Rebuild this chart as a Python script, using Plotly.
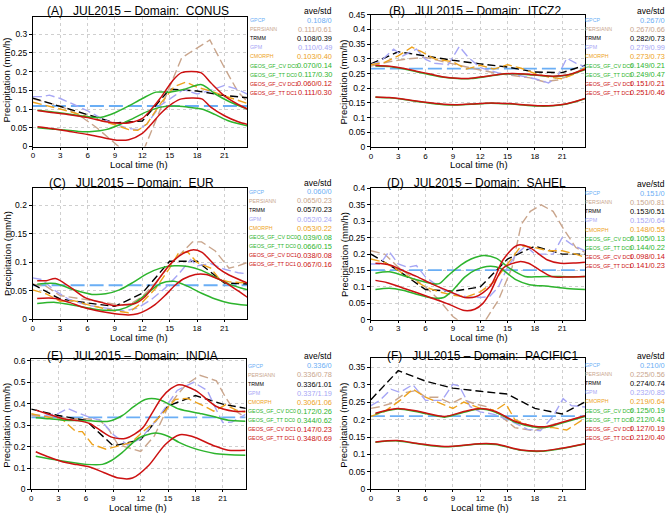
import plotly.graph_objects as go

W, H = 668, 517

# ---------------- common ----------------
HOURS3 = [0, 3, 6, 9, 12, 15, 18, 21, 24]
XTICKS = [0, 3, 6, 9, 12, 15, 18, 21]
XMAX = 23.5
SERIES = ["GPCP", "PERSIANN", "TRMM", "GPM", "CMORPH",
          "GEOS_GF_CV DC0", "GEOS_GF_TT DC0", "GEOS_GF_CV DC1", "GEOS_GF_TT DC1"]
COLORS = ["#6aaef5", "#c9a58c", "#000000", "#a6a6f5", "#eda21c",
          "#2db42d", "#2db42d", "#cc1111", "#cc1111"]

# ---------------- (A) CONUS ----------------
A_GPCP = 0.108
A_TRMM = [0.129, 0.107, 0.085, 0.063, 0.068, 0.153, 0.148, 0.136, 0.129]
A_PERSIANN_X = [0, 3, 5, 7, 9.4, 10.8, 12.3, 13.5, 15, 16.3, 17.5, 19.4, 21, 22.5, 23.5]
A_PERSIANN = [0.127, 0.108, 0.085, 0.05, 0.0, -0.03, 0.0, 0.07, 0.155, 0.236, 0.255, 0.284, 0.21, 0.145, 0.12]
A_GPM_X = [0, 1, 1.8, 3, 4.5, 6, 7.5, 9, 10.5, 11.5, 12.5, 14, 15.5, 16.5, 18, 19.5, 21, 22.5, 23.5]
A_GPM = [0.133, 0.133, 0.137, 0.128, 0.112, 0.095, 0.075, 0.06, 0.048, 0.045, 0.06, 0.11, 0.135, 0.152, 0.14, 0.15, 0.163, 0.152, 0.14]
A_CMORPH_X = [0, 1.5, 3, 4.5, 6, 7.5, 9, 10.5, 11.5, 12.5, 14, 15.5, 16.8, 18, 19.5, 21, 22.5, 23.5]
A_CMORPH = [0.118, 0.11, 0.1, 0.09, 0.08, 0.07, 0.058, 0.045, 0.043, 0.06, 0.115, 0.16, 0.172, 0.158, 0.148, 0.135, 0.122, 0.115]
A_CV0_X = [0.5, 2, 3.5, 5, 6.5, 8, 9.5, 11, 12.5, 14, 15.5, 17, 18.5, 20, 21.5, 23.5]
A_CV0 = [0.05, 0.047, 0.044, 0.04, 0.04, 0.045, 0.058, 0.075, 0.093, 0.105, 0.108, 0.105, 0.1, 0.085, 0.068, 0.055]
A_TT0_X = [0.5, 2, 3.5, 5, 6.5, 7.5, 9, 10.5, 12, 13.5, 15, 16.5, 18.5, 20, 21.5, 23.5]
A_TT0 = [0.097, 0.093, 0.088, 0.083, 0.078, 0.078, 0.09, 0.108, 0.128, 0.145, 0.145, 0.152, 0.165, 0.14, 0.12, 0.1]
A_CV1_X = [0.5, 2, 4, 6, 8, 9.2, 10.5, 12, 13, 14, 15.3, 16.3, 18.5, 19.5, 21, 22.5, 23.5]
A_CV1 = [0.053, 0.048, 0.04, 0.032, 0.022, 0.017, 0.018, 0.035, 0.06, 0.088, 0.115, 0.127, 0.127, 0.105, 0.082, 0.066, 0.059]
A_TT1_X = [0.5, 2, 4, 6, 8, 9.5, 10.5, 12, 13, 14, 15.3, 16.3, 18.4, 19.5, 21, 22.5, 23.5]
A_TT1 = [0.096, 0.091, 0.085, 0.077, 0.066, 0.062, 0.063, 0.075, 0.1, 0.13, 0.175, 0.197, 0.197, 0.17, 0.135, 0.112, 0.1]
A_STATS = ["0.108/0", "0.111/0.61", "0.108/0.39", "0.110/0.49", "0.103/0.40",
           "0.070/0.14", "0.117/0.30", "0.060/0.12", "0.111/0.30"]

# ---------------- (B) ITCZ2 ----------------
B_GPCP = 0.267
B_TRMM = [0.283, 0.324, 0.31, 0.295, 0.283, 0.272, 0.255, 0.253, 0.283]
B_PERSIANN_X = [0, 2, 4, 6, 8, 10, 12, 14, 16, 17.5, 19, 20.5, 22, 23.5]
B_PERSIANN = [0.275, 0.29, 0.30, 0.305, 0.29, 0.275, 0.262, 0.25, 0.242, 0.235, 0.222, 0.228, 0.245, 0.27]
B_GPM_X = [0, 1, 2.5, 3.5, 5, 6, 7, 8.5, 9.7, 10.7, 12, 14, 16, 18, 19.5, 20.5, 21.5, 22.5, 23.5]
B_GPM = [0.28, 0.29, 0.333, 0.31, 0.333, 0.298, 0.285, 0.28, 0.342, 0.305, 0.27, 0.252, 0.245, 0.232, 0.218, 0.24, 0.302, 0.285, 0.273]
B_CMORPH_X = [0, 1.5, 3, 4.5, 5.5, 7, 9, 10.5, 12, 13.5, 15, 16.5, 18, 19.5, 21, 22.5, 23.5]
B_CMORPH = [0.28, 0.288, 0.31, 0.34, 0.325, 0.3, 0.29, 0.265, 0.278, 0.265, 0.28, 0.268, 0.25, 0.238, 0.232, 0.25, 0.27]
B_MOD_X = [0.5, 2, 3.5, 5, 6.5, 8, 9.5, 11, 12.5, 14, 15.5, 17, 18.5, 20, 21.5, 23.5]
B_CV0 = [0.169, 0.167, 0.162, 0.155, 0.149, 0.144, 0.143, 0.145, 0.148, 0.148, 0.146, 0.142, 0.139, 0.14, 0.146, 0.164]
B_TT0 = [0.276, 0.274, 0.266, 0.256, 0.246, 0.237, 0.233, 0.233, 0.239, 0.246, 0.249, 0.247, 0.243, 0.24, 0.244, 0.263]
B_CV1 = [0.17, 0.168, 0.163, 0.156, 0.15, 0.145, 0.144, 0.146, 0.149, 0.149, 0.147, 0.143, 0.14, 0.141, 0.147, 0.165]
B_TT1 = [0.277, 0.275, 0.268, 0.258, 0.248, 0.238, 0.234, 0.234, 0.24, 0.247, 0.25, 0.248, 0.244, 0.241, 0.245, 0.265]
B_STATS = ["0.267/0", "0.267/0.66", "0.282/0.73", "0.279/0.99", "0.273/0.73",
           "0.149/0.21", "0.249/0.47", "0.151/0.21", "0.251/0.46"]

# ---------------- (C) EUR ----------------
C_GPCP = 0.060
C_TRMM = [0.062, 0.036, 0.029, 0.023, 0.046, 0.102, 0.102, 0.064, 0.062]
C_PERSIANN_X = [0, 1.5, 3, 4.5, 6, 7.5, 9, 10.5, 12, 13.5, 15, 16.5, 17.5, 18.5, 20, 21.5, 22.5, 23.5]
C_PERSIANN = [0.062, 0.058, 0.042, 0.038, 0.035, 0.031, 0.027, 0.025, 0.04, 0.065, 0.095, 0.12, 0.136, 0.136, 0.12, 0.09, 0.094, 0.1]
C_GPM_X = [0, 1, 2.5, 4, 6, 8, 10, 11.5, 13, 14.5, 16, 17.3, 18, 19.5, 21, 22.5, 23.5]
C_GPM = [0.073, 0.07, 0.05, 0.035, 0.025, 0.02, 0.015, 0.02, 0.035, 0.055, 0.08, 0.105, 0.094, 0.098, 0.088, 0.082, 0.08]
C_CMORPH_X = [0, 1.5, 3, 4.5, 6, 7.5, 9, 10.5, 12, 13.5, 15, 16, 17, 18, 19.5, 20.5, 21.5, 23.5]
C_CMORPH = [0.052, 0.045, 0.032, 0.033, 0.026, 0.02, 0.015, 0.012, 0.03, 0.055, 0.09, 0.117, 0.118, 0.1, 0.09, 0.07, 0.066, 0.064]
C_G_X = [0.5, 2.5, 4.5, 6.5, 8, 9.5, 11, 12.5, 14, 15.5, 17, 18.5, 20, 21.5, 23.5]
C_CV0 = [0.028, 0.03, 0.025, 0.019, 0.016, 0.017, 0.027, 0.045, 0.063, 0.067, 0.058, 0.046, 0.036, 0.029, 0.025]
C_TT0 = [0.062, 0.063, 0.052, 0.044, 0.045, 0.052, 0.065, 0.08, 0.09, 0.094, 0.093, 0.086, 0.074, 0.062, 0.052]
C_CV1_X = [0.5, 2.5, 4, 5.8, 7.5, 9, 10.5, 11.5, 12.5, 13.4, 14.5, 15.6, 16.5, 17.8, 19, 20, 21, 22.5, 23.5]
C_CV1 = [0.037, 0.037, 0.03, 0.02, 0.014, 0.01, 0.008, 0.01, 0.017, 0.026, 0.042, 0.06, 0.071, 0.079, 0.079, 0.073, 0.066, 0.05, 0.039]
C_TT1_X = [0.5, 1.5, 2.5, 4, 5.8, 7.5, 9, 10, 11.2, 12.3, 13.4, 14.5, 15.5, 16.5, 17.5, 18.5, 20.3, 21.5, 23.5]
C_TT1 = [0.068, 0.068, 0.072, 0.058, 0.038, 0.03, 0.024, 0.026, 0.028, 0.04, 0.062, 0.086, 0.104, 0.116, 0.122, 0.118, 0.09, 0.078, 0.064]
C_STATS = ["0.060/0", "0.065/0.23", "0.057/0.23", "0.052/0.24", "0.053/0.22",
           "0.039/0.08", "0.066/0.15", "0.038/0.08", "0.067/0.16"]

# ---------------- (D) SAHEL ----------------
D_GPCP = 0.151
D_TRMM = [0.2, 0.15, 0.092, 0.087, 0.1, 0.185, 0.224, 0.2, 0.2]
D_PERSIANN_X = [0, 1.5, 3, 4.5, 6, 7.5, 9, 10, 12.5, 14, 15.5, 16.5, 17.5, 18.7, 20, 21.3, 22.5, 23.5]
D_PERSIANN = [0.21, 0.2, 0.16, 0.13, 0.1, 0.06, 0.01, -0.01, -0.005, 0.06, 0.16, 0.29, 0.33, 0.35, 0.33, 0.27, 0.22, 0.205]
D_GPM_X = [0, 1, 2, 3, 4, 5, 6, 7, 8, 9, 10.5, 12, 13, 14, 15, 16, 17, 18, 19, 20, 21, 22, 23.5]
D_GPM = [0.17, 0.17, 0.208, 0.17, 0.16, 0.165, 0.13, 0.11, 0.09, 0.08, 0.07, 0.068, 0.07, 0.1, 0.16, 0.2, 0.225, 0.2, 0.2, 0.2, 0.25, 0.23, 0.21]
D_CMORPH_X = [0, 1.5, 3, 4.5, 6, 7.5, 9, 10.5, 12, 13.5, 15, 16.5, 18, 19.5, 21, 22.5, 23.5]
D_CMORPH = [0.185, 0.175, 0.15, 0.125, 0.1, 0.085, 0.075, 0.07, 0.085, 0.115, 0.17, 0.225, 0.22, 0.21, 0.21, 0.2, 0.19]
D_CV0_X = [0.5, 2, 3.5, 5, 6.8, 8, 9, 10.3, 11.5, 13.1, 14.2, 15.9, 17.4, 19.5, 21.5, 23.5]
D_CV0 = [0.092, 0.096, 0.09, 0.078, 0.066, 0.068, 0.09, 0.13, 0.152, 0.163, 0.157, 0.122, 0.107, 0.102, 0.095, 0.092]
D_TT0_X = [0.5, 2, 3.5, 5, 6.8, 7.5, 8.5, 9.9, 11, 12.4, 13.8, 15.2, 16.9, 18.5, 20, 21.5, 23.5]
D_TT0 = [0.142, 0.146, 0.135, 0.122, 0.11, 0.11, 0.135, 0.167, 0.185, 0.196, 0.187, 0.157, 0.132, 0.131, 0.132, 0.131, 0.132]
D_CV1_X = [0.5, 1.8, 3.5, 5, 6.8, 8.5, 10.3, 11.4, 12.3, 13.1, 14.5, 16.3, 17.3, 18.5, 19.8, 21.5, 23.5]
D_CV1 = [0.12, 0.113, 0.097, 0.083, 0.065, 0.048, 0.028, 0.032, 0.05, 0.083, 0.157, 0.177, 0.172, 0.152, 0.132, 0.13, 0.132]
D_TT1_X = [0.5, 2.1, 3.5, 5, 6.8, 8.5, 10.3, 11.5, 13.1, 14.5, 16.1, 17.3, 19.4, 20.8, 22.5, 23.5]
D_TT1 = [0.172, 0.167, 0.15, 0.132, 0.108, 0.088, 0.068, 0.07, 0.102, 0.182, 0.227, 0.222, 0.182, 0.172, 0.173, 0.175]
D_STATS = ["0.151/0", "0.150/0.81", "0.153/0.51", "0.152/0.64", "0.148/0.55",
           "0.105/0.13", "0.144/0.22", "0.098/0.14", "0.141/0.23"]

# ---------------- (E) INDIA ----------------
E_GPCP = 0.336
E_TRMM = [0.375, 0.345, 0.322, 0.203, 0.232, 0.39, 0.438, 0.398, 0.375]
E_PERSIANN_X = [0, 1.5, 3, 4.5, 6, 7.5, 8.5, 9.5, 11, 12, 13.5, 15, 16, 17, 18.5, 20.3, 21.3, 22.2, 23.5]
E_PERSIANN = [0.345, 0.34, 0.335, 0.33, 0.33, 0.325, 0.28, 0.21, 0.19, 0.177, 0.25, 0.385, 0.44, 0.49, 0.533, 0.507, 0.43, 0.372, 0.335]
E_GPM_X = [0, 1.5, 3, 4, 5, 6.2, 7.7, 9.1, 10.6, 12, 13.8, 16, 17.8, 19.3, 20.2, 21, 22, 23.5]
E_GPM = [0.35, 0.345, 0.355, 0.378, 0.36, 0.34, 0.32, 0.252, 0.207, 0.237, 0.327, 0.462, 0.5, 0.462, 0.38, 0.312, 0.315, 0.35]
E_CMORPH_X = [0, 1.5, 3.5, 4.9, 5.6, 6.7, 8.2, 9.6, 11, 12, 13.8, 15.8, 17.1, 18.9, 20, 21.3, 22.5, 23.5]
E_CMORPH = [0.353, 0.34, 0.323, 0.27, 0.27, 0.21, 0.188, 0.203, 0.22, 0.26, 0.327, 0.42, 0.425, 0.39, 0.365, 0.395, 0.37, 0.36]
E_CV0_X = [0.5, 3.1, 6, 7.8, 8.8, 10, 11.8, 13.6, 15, 16.2, 17.6, 20.1, 23.5]
E_CV0 = [0.155, 0.135, 0.117, 0.117, 0.135, 0.173, 0.24, 0.263, 0.248, 0.22, 0.195, 0.168, 0.16]
E_TT0_X = [0.5, 2, 3.5, 5, 6.5, 8.5, 10, 11.2, 12.5, 14, 15, 16.2, 18.7, 20, 21.6, 23.5]
E_TT0 = [0.335, 0.33, 0.323, 0.322, 0.32, 0.318, 0.345, 0.385, 0.42, 0.42, 0.4, 0.375, 0.353, 0.34, 0.323, 0.318]
E_CV1_X = [0.5, 2, 3.5, 5, 6.4, 8, 9.6, 11.1, 12.9, 14.7, 16.3, 17.6, 20.1, 21.6, 23.5]
E_CV1 = [0.176, 0.15, 0.128, 0.116, 0.105, 0.078, 0.053, 0.053, 0.113, 0.21, 0.255, 0.248, 0.203, 0.183, 0.183]
E_TT1_X = [0.5, 2, 3.5, 5, 6.4, 7.6, 8.9, 10.4, 12.2, 13.3, 14.3, 15.3, 16.2, 18, 20.3, 22.2, 23.5]
E_TT1 = [0.37, 0.35, 0.33, 0.322, 0.308, 0.275, 0.243, 0.239, 0.286, 0.36, 0.428, 0.47, 0.489, 0.462, 0.387, 0.365, 0.365]
E_STATS = ["0.336/0", "0.336/0.78", "0.336/1.01", "0.337/1.19", "0.306/1.06",
           "0.172/0.26", "0.344/0.62", "0.147/0.23", "0.348/0.69"]

# ---------------- (F) PACIFIC1 ----------------
F_GPCP = 0.210
F_TRMM = [0.257, 0.34, 0.31, 0.29, 0.281, 0.273, 0.232, 0.216, 0.257]
F_PERSIANN_X = [0, 1, 2.2, 3.9, 5, 6, 7.4, 8.8, 9.9, 11.3, 12.7, 14.1, 15.8, 17.9, 20, 21.5, 23.5]
F_PERSIANN = [0.232, 0.237, 0.246, 0.278, 0.283, 0.264, 0.264, 0.246, 0.26, 0.246, 0.237, 0.214, 0.177, 0.168, 0.186, 0.195, 0.212]
F_GPM_X = [0, 1, 2.2, 3.2, 4.6, 6, 7.8, 9, 9.7, 10.9, 12, 13.5, 15, 17.2, 18.6, 20, 21.1, 22, 23.5]
F_GPM = [0.24, 0.255, 0.287, 0.278, 0.3, 0.255, 0.255, 0.301, 0.296, 0.237, 0.222, 0.215, 0.2, 0.172, 0.168, 0.209, 0.26, 0.24, 0.236]
F_CMORPH_X = [0, 1.5, 3.2, 4.6, 6, 7.4, 9, 10.2, 12, 13.7, 14.8, 15.8, 17.9, 20, 21.5, 23.5]
F_CMORPH = [0.209, 0.223, 0.255, 0.287, 0.264, 0.25, 0.232, 0.25, 0.232, 0.227, 0.246, 0.2, 0.177, 0.177, 0.17, 0.204]
F_TT_X = [0.5, 2.9, 5.3, 8.1, 10.2, 12, 13.7, 15.8, 17.9, 19.3, 20.7, 23.5]
F_TT0 = [0.216, 0.23, 0.221, 0.207, 0.221, 0.23, 0.221, 0.193, 0.179, 0.178, 0.188, 0.209]
F_TT1 = [0.218, 0.232, 0.223, 0.209, 0.223, 0.232, 0.223, 0.195, 0.181, 0.18, 0.19, 0.211]
F_CV_X = [0.5, 2.9, 5.3, 8.1, 12, 13.7, 16.5, 18.6, 20.7, 23.5]
F_CV0 = [0.135, 0.139, 0.13, 0.122, 0.13, 0.129, 0.112, 0.109, 0.116, 0.13]
F_CV1 = [0.136, 0.14, 0.131, 0.123, 0.131, 0.13, 0.113, 0.11, 0.117, 0.131]
F_STATS = ["0.210/0", "0.225/0.56", "0.274/0.74", "0.232/0.85", "0.219/0.64",
           "0.125/0.19", "0.212/0.41", "0.127/0.19", "0.212/0.40"]

PANELS = [
    dict(tag="A", dom="CONUS", gpcp=A_GPCP, trmm=A_TRMM,
         obs=[(A_PERSIANN_X, A_PERSIANN), (A_GPM_X, A_GPM), (A_CMORPH_X, A_CMORPH)],
         mod=[(A_CV0_X, A_CV0), (A_TT0_X, A_TT0), (A_CV1_X, A_CV1), (A_TT1_X, A_TT1)],
         stats=A_STATS, ymax=0.346, dtick=0.05,
         box=(31, 246, 12, 144.3), leg=(246.5, 333, 6.2, 15.5), title=(43, 6),
         ytl=(5, 76), xtl=(137.5, 162.5)),
    dict(tag="B", dom="ITCZ2", gpcp=B_GPCP, trmm=B_TRMM,
         obs=[(B_PERSIANN_X, B_PERSIANN), (B_GPM_X, B_GPM), (B_CMORPH_X, B_CMORPH)],
         mod=[(B_MOD_X, B_CV0), (B_MOD_X, B_TT0), (B_MOD_X, B_CV1), (B_MOD_X, B_TT1)],
         stats=B_STATS, ymax=0.45, dtick=0.05,
         box=(370, 584.7, 10, 144.7), leg=(583, 667, 6.0, 15.5), title=(386, 6.5),
         ytl=(343, 78), xtl=(478, 163)),
    dict(tag="C", dom="EUR", gpcp=C_GPCP, trmm=C_TRMM,
         obs=[(C_PERSIANN_X, C_PERSIANN), (C_GPM_X, C_GPM), (C_CMORPH_X, C_CMORPH)],
         mod=[(C_G_X, C_CV0), (C_G_X, C_TT0), (C_CV1_X, C_CV1), (C_TT1_X, C_TT1)],
         stats=C_STATS, ymax=0.231, dtick=0.05,
         box=(30.7, 246, 186.3, 320.7), leg=(246, 333, 181.5, 190.5), title=(45, 181.3),
         ytl=(5, 253), xtl=(137.5, 339)),
    dict(tag="D", dom="SAHEL", gpcp=D_GPCP, trmm=D_TRMM,
         obs=[(D_PERSIANN_X, D_PERSIANN), (D_GPM_X, D_GPM), (D_CMORPH_X, D_CMORPH)],
         mod=[(D_CV0_X, D_CV0), (D_TT0_X, D_TT0), (D_CV1_X, D_CV1), (D_TT1_X, D_TT1)],
         stats=D_STATS, ymax=0.4, dtick=0.05,
         box=(370, 584.7, 187, 321), leg=(583, 667, 182.5, 192), title=(384, 182),
         ytl=(343, 254), xtl=(478, 339.5)),
    dict(tag="E", dom="INDIA", gpcp=E_GPCP, trmm=E_TRMM,
         obs=[(E_PERSIANN_X, E_PERSIANN), (E_GPM_X, E_GPM), (E_CMORPH_X, E_CMORPH)],
         mod=[(E_CV0_X, E_CV0), (E_TT0_X, E_TT0), (E_CV1_X, E_CV1), (E_TT1_X, E_TT1)],
         stats=E_STATS, ymax=0.61, dtick=0.1,
         box=(29.3, 244.3, 360.7, 494.0), leg=(244.5, 333, 358, 368), title=(43, 358),
         ytl=(5, 428), xtl=(136.7, 512)),
    dict(tag="F", dom="PACIFIC1", gpcp=F_GPCP, trmm=F_TRMM,
         obs=[(F_PERSIANN_X, F_PERSIANN), (F_GPM_X, F_GPM), (F_CMORPH_X, F_CMORPH)],
         mod=[(F_CV_X, F_CV0), (F_TT_X, F_TT0), (F_CV_X, F_CV1), (F_TT_X, F_TT1)],
         stats=F_STATS, ymax=0.377, dtick=0.05,
         box=(370, 584.7, 359.7, 494.0), leg=(583, 667, 358, 367.3), title=(384, 358),
         ytl=(343, 428), xtl=(479, 512)),
]

FONT = "Liberation Sans, Arial, sans-serif"

def px(x):
    return x / W

def py(y):
    return 1 - y / H

fig = go.Figure()
annotations = []
layout = {}

for i, p in enumerate(PANELS):
    n = i + 1
    xa = "x" if n == 1 else f"x{n}"
    ya = "y" if n == 1 else f"y{n}"
    x0, x1, y0, y1 = p["box"]
    layout["xaxis" if n == 1 else f"xaxis{n}"] = dict(
        domain=[px(x0), px(x1)], range=[0, XMAX], anchor=ya,
        tickvals=XTICKS, ticks="outside", ticklen=2, tickcolor="black",
        ticklabelstandoff=-1,
        showline=True, linecolor="black", linewidth=1, mirror=True,
        showgrid=True, gridcolor="#cfcfcf", griddash="dot", gridwidth=1,
        zeroline=False, tickfont=dict(family=FONT, size=8, color="black"))
    layout["yaxis" if n == 1 else f"yaxis{n}"] = dict(
        domain=[py(y1), py(y0)], range=[0, p["ymax"]], anchor=xa,
        dtick=p["dtick"], tick0=0, ticks="outside", ticklen=3, tickcolor="black",
        showline=True, linecolor="black", linewidth=1, mirror=True,
        showgrid=True, gridcolor="#cfcfcf", griddash="dot", gridwidth=1,
        zeroline=False, tickfont=dict(family=FONT, size=8.5, color="black"))

    # GPCP (daily mean)
    fig.add_trace(go.Scatter(x=[0, XMAX], y=[p["gpcp"], p["gpcp"]], mode="lines",
                             line=dict(color=COLORS[0], width=1.8, dash="14px,5px"),
                             xaxis=xa, yaxis=ya, showlegend=False))
    # PERSIANN
    fig.add_trace(go.Scatter(x=p["obs"][0][0], y=p["obs"][0][1], mode="lines",
                             line=dict(color=COLORS[1], width=1.4, dash="9px,4px"),
                             xaxis=xa, yaxis=ya, showlegend=False))
    # TRMM (3-hourly)
    fig.add_trace(go.Scatter(x=HOURS3, y=p["trmm"], mode="lines",
                             line=dict(color=COLORS[2], width=1.4, dash="8px,4px"),
                             xaxis=xa, yaxis=ya, showlegend=False))
    # GPM, CMORPH
    for k, (xs, ys) in zip([3, 4], p["obs"][1:]):
        fig.add_trace(go.Scatter(x=xs, y=ys, mode="lines",
                                 line=dict(color=COLORS[k], width=1.4, dash="9px,4px"),
                                 xaxis=xa, yaxis=ya, showlegend=False))
    # models
    for k, (xs, ys) in zip([5, 6, 7, 8], p["mod"]):
        fig.add_trace(go.Scatter(x=xs, y=ys, mode="lines",
                                 line=dict(color=COLORS[k], width=1.5, shape="spline", smoothing=0.8),
                                 xaxis=xa, yaxis=ya, showlegend=False))

    # title
    tx, ty = p["title"]
    annotations.append(dict(x=px(tx), y=py(ty), xref="paper", yref="paper",
                            xanchor="left", yanchor="middle", showarrow=False,
                            text=f"({p['tag']})   JUL2015 \u2013 Domain:  {p['dom']}",
                            font=dict(family=FONT, size=12, color="black")))
    # axis titles
    ax_, ay_ = p["ytl"]
    annotations.append(dict(x=px(ax_), y=py(ay_), xref="paper", yref="paper",
                            xanchor="center", yanchor="middle", showarrow=False,
                            textangle=-90, text="Precipitation (mm/h)",
                            font=dict(family=FONT, size=9.5, color="black")))
    bx, by = p["xtl"]
    annotations.append(dict(x=px(bx), y=py(by), xref="paper", yref="paper",
                            xanchor="center", yanchor="middle", showarrow=False,
                            text="Local time (h)",
                            font=dict(family=FONT, size=9.5, color="black")))
    # legend with statistics
    lx, rx, hy, ry0 = p["leg"]
    annotations.append(dict(x=px(rx), y=py(hy), xref="paper", yref="paper",
                            xanchor="right", yanchor="middle", showarrow=False,
                            text="ave/std", font=dict(family=FONT, size=8.5, color="black")))
    for k in range(9):
        yy = ry0 + 9.25 * k
        annotations.append(dict(x=px(lx), y=py(yy), xref="paper", yref="paper",
                                xanchor="left", yanchor="middle", showarrow=False,
                                text=SERIES[k], font=dict(family=FONT, size=5.3, color=COLORS[k])))
        annotations.append(dict(x=px(rx), y=py(yy), xref="paper", yref="paper",
                                xanchor="right", yanchor="middle", showarrow=False,
                                text=p["stats"][k], font=dict(family=FONT, size=7.4, color=COLORS[k])))

fig.update_layout(width=W, height=H, margin=dict(l=0, r=0, t=0, b=0),
                  paper_bgcolor="white", plot_bgcolor="white",
                  annotations=annotations, showlegend=False, **layout)

fig.write_html("out.html", config={"displayModeBar": False},
               post_script="document.body.style.margin='0px';document.body.style.padding='0px';")
